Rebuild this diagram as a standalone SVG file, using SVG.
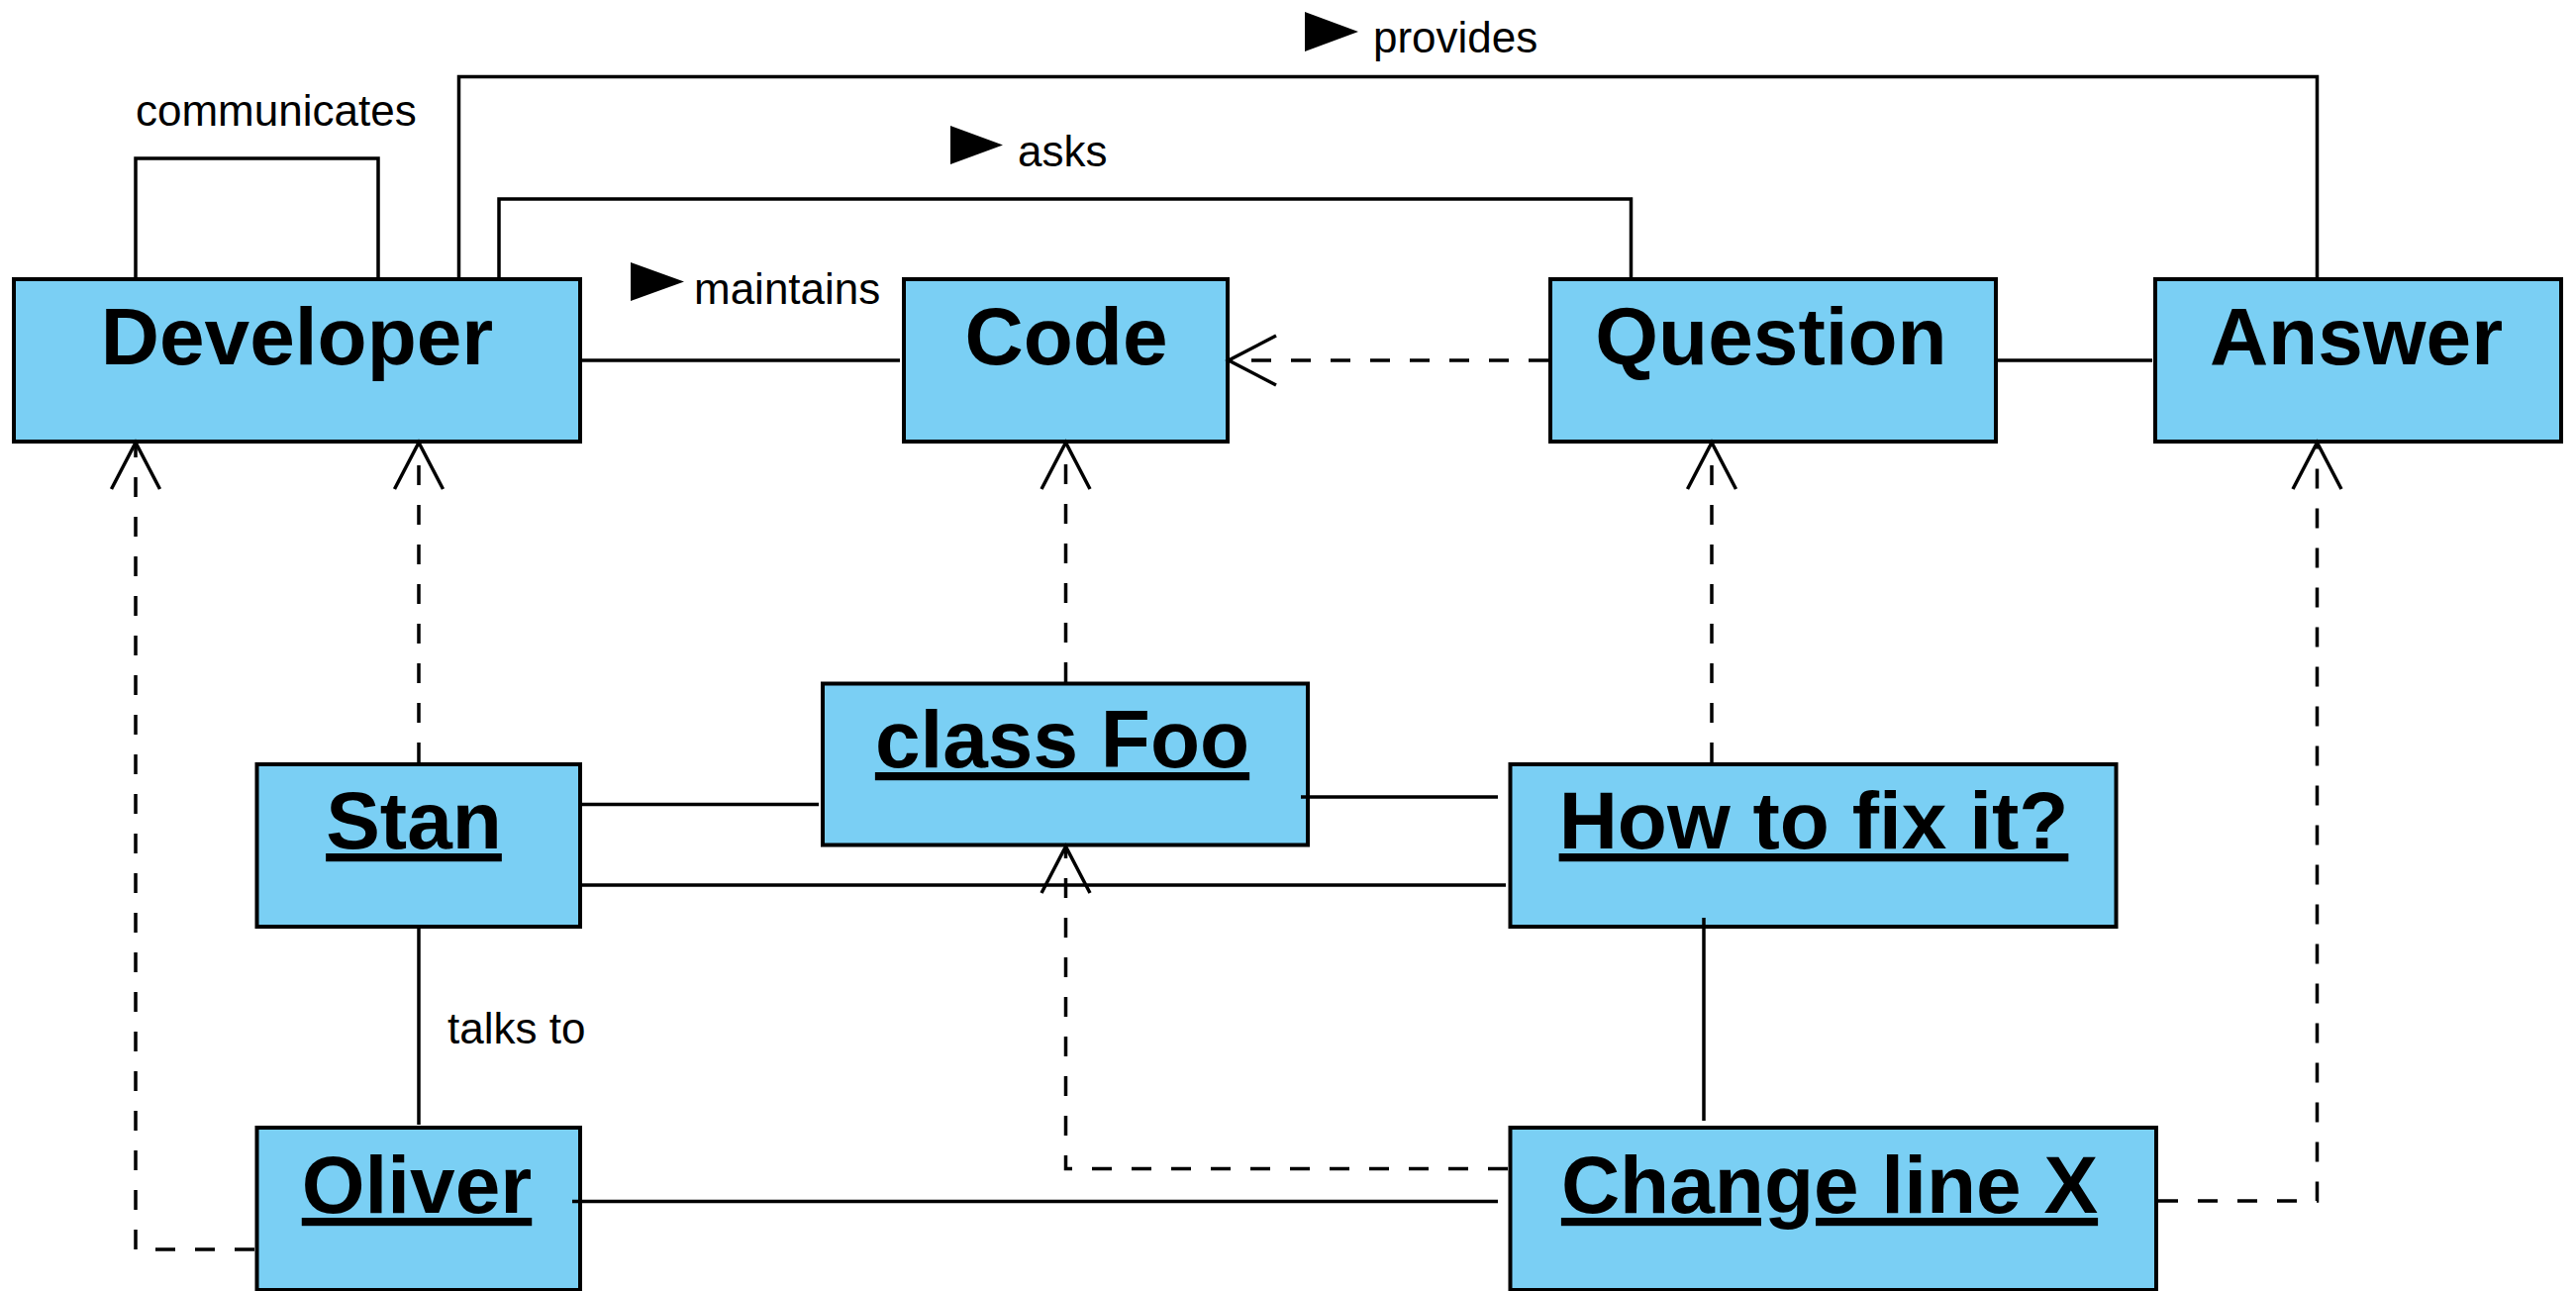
<svg xmlns="http://www.w3.org/2000/svg" width="2602" height="1304" viewBox="0 0 2602 1304">
<style>
.box{fill:#7ACFF4;stroke:#000;stroke-width:4}
.name{font-family:"Liberation Sans",Arial,sans-serif;font-weight:bold;font-size:82px;fill:#000;text-anchor:middle}
.obj{text-decoration:underline}
.lbl{font-family:"Liberation Sans",Arial,sans-serif;font-size:44px;fill:#000}
.ln{fill:none;stroke:#000;stroke-width:3.5}
.dash{fill:none;stroke:#000;stroke-width:3.5;stroke-dasharray:20 20}
.head{fill:none;stroke:#000;stroke-width:3.5}
.tri{fill:#000}
</style>
<rect width="2602" height="1304" fill="#fff"/>
<g id="developer"><rect class="box" x="14" y="282" width="572" height="164"/><text class="name" x="300" y="368">Developer</text></g>
<g id="code"><rect class="box" x="913" y="282" width="327" height="164"/><text class="name" x="1077" y="368">Code</text></g>
<g id="question"><rect class="box" x="1566" y="282" width="450" height="164"/><text class="name" x="1789" y="368">Question</text></g>
<g id="answer"><rect class="box" x="2177" y="282" width="410" height="164"/><text class="name" x="2380" y="368">Answer</text></g>
<g id="stan"><rect class="box" x="259.5" y="772" width="326.5" height="164"/><text class="name obj" x="418" y="857">Stan</text></g>
<g id="classfoo"><rect class="box" x="831" y="690.5" width="490" height="163"/><text class="name obj" x="1073" y="775">class Foo</text></g>
<g id="howtofix"><rect class="box" x="1525.5" y="772" width="612" height="164"/><text class="name obj" x="1832" y="857">How to fix it?</text></g>
<g id="oliver"><rect class="box" x="259.5" y="1139" width="326.5" height="164"/><text class="name obj" x="421" y="1225">Oliver</text></g>
<g id="changeline"><rect class="box" x="1525.5" y="1139" width="652.5" height="164"/><text class="name obj" x="1848" y="1225">Change line X</text></g>
<g id="connectors">
  <path class="ln" d="M137,280 V160 H382 V280"/>
  <path class="ln" d="M463.5,280 V77.5 H2340.5 V280"/>
  <path class="ln" d="M504,280 V201 H1647.5 V280"/>
  <path class="ln" d="M586,364 H909"/>
  <path class="ln" d="M2016,364 H2174"/>
  <path class="ln" d="M586,812.5 H827"/>
  <path class="ln" d="M586,894 H1521"/>
  <path class="ln" d="M1314,805 H1513"/>
  <path class="ln" d="M423,936 V1136"/>
  <path class="ln" d="M578,1213.5 H1513"/>
  <path class="ln" d="M1721,927 V1132"/>
  <path class="dash" d="M1564,364 H1242"/>
  <polyline class="head" points="1289,339 1241,364 1289,389"/>
  <path class="dash" d="M423,770 V448"/>
  <polyline class="head" points="398.5,494 423,447 447.5,494"/>
  <path class="dash" d="M257,1262 H137 V448"/>
  <polyline class="head" points="112.5,494 137,447 161.5,494"/>
  <path class="dash" d="M1076.5,689 V448"/>
  <polyline class="head" points="1052,494 1076.5,447 1101,494"/>
  <path class="dash" d="M1729,770 V448"/>
  <polyline class="head" points="1704.5,494 1729,447 1753.5,494"/>
  <path class="dash" d="M2180,1213 H2340.5 V448"/>
  <polyline class="head" points="2316,494 2340.5,447 2365,494"/>
  <path class="dash" d="M1523,1180.5 H1076.5 V856"/>
  <polyline class="head" points="1052,902 1076.5,855 1101,902"/>
  <polygon class="tri" points="637,265 691,284.5 637,304"/>
  <text class="lbl" x="701" y="307">maintains</text>
  <polygon class="tri" points="960,127 1013,146.5 960,166"/>
  <text class="lbl" x="1028" y="168">asks</text>
  <polygon class="tri" points="1318,12 1372,32 1318,52"/>
  <text class="lbl" x="1387" y="53">provides</text>
  <text class="lbl" x="137" y="127">communicates</text>
  <text class="lbl" x="452" y="1054">talks to</text>
</g>
</svg>
